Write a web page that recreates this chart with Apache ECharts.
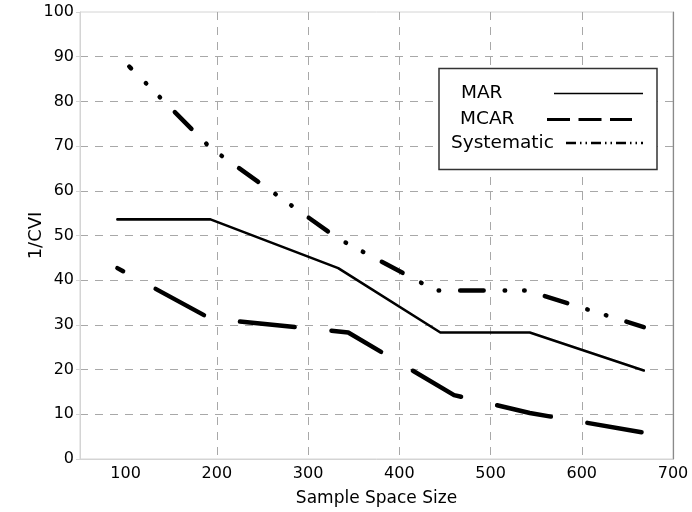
<!DOCTYPE html>
<html>
<head>
<meta charset="utf-8">
<script src="https://cdn.jsdelivr.net/npm/echarts@6/dist/echarts.min.js"></script>
<style>
  html, body { margin: 0; padding: 0; background: #fff; }
  #chart { width: 692px; height: 512px; }
</style>
</head>
<body>
<div id="chart"></div>
<script>
// Sample space size vs 1/CVI for three missing-data mechanisms
const seriesNames = ['MAR', 'MCAR', 'Systematic'];
const marPoints = [[91, 53.6], [193, 53.6], [333, 42.7], [445, 28.3], [543, 28.3], [668, 19.8]];
const mcarPoints = [[91, 42.7], [193, 31.4], [344, 28.3], [460, 14.3], [543, 10.3], [668, 5.9]];
const systematicPoints = [[104, 87.8], [193, 69.6], [333, 49.3], [440, 37.7], [540, 37.7], [668, 29.5]];
const xTickValues = [100, 200, 300, 400, 500, 600, 700];
const xRange = [50, 700];
const yRange = [0, 100];
const yStep = 10;
const xTitle = 'Sample Space Size';
const yTitle = '1/CVI';

const FONT = '"DejaVu Sans", Verdana, sans-serif';
const gridColor = '#a8a8a8';
const frameColor = '#d4d4d4';

const chart = echarts.init(document.getElementById('chart'), null, { renderer: 'canvas' });

function lineSeries(name, data, style) {
  return {
    name: name,
    type: 'line',
    data: data,
    showSymbol: false,
    symbol: 'none',
    smooth: false,
    silent: true,
    animation: false,
    lineStyle: Object.assign({ color: '#000', cap: 'round', join: 'round' }, style)
  };
}

// Legend box drawn as graphics: label on the left, line sample on the right
const legendRows = [
  { y: 93.5, textX: 461, x1: 554, x2: 643, width: 1.5, dash: null },
  { y: 119.5, textX: 460, x1: 547, x2: 632, width: 3, dash: [23, 8.5] },
  { y: 143, textX: 451, x1: 566, x2: 643, width: 2.5, dash: [10, 4, 1.5, 4, 1.5, 4] }
];
const legendGraphics = [{
  type: 'rect',
  shape: { x: 439, y: 68.5, width: 218, height: 101 },
  style: { fill: '#fff', stroke: '#333', lineWidth: 1.5 },
  z: 10
}];
legendRows.forEach((row, i) => {
  legendGraphics.push({
    type: 'text',
    style: { text: seriesNames[i], x: row.textX, y: row.y, font: '18.5px ' + FONT, fill: '#000', verticalAlign: 'middle' },
    z: 11
  });
  legendGraphics.push({
    type: 'line',
    shape: { x1: row.x1, y1: row.y, x2: row.x2, y2: row.y },
    style: { stroke: '#000', lineWidth: row.width, lineDash: row.dash, lineCap: 'butt' },
    z: 11
  });
});

chart.setOption({
  animation: false,
  backgroundColor: '#fff',
  grid: { left: 80, right: 19, top: 12, bottom: 50, show: true, borderColor: frameColor, borderWidth: 1, backgroundColor: '#fff' },
  xAxis: {
    type: 'value',
    min: xRange[0],
    max: xRange[1],
    name: xTitle,
    nameLocation: 'middle',
    nameGap: 31,
    nameMoveOverlap: false,
    nameTextStyle: { fontFamily: FONT, fontSize: 17, color: '#000' },
    axisLine: { show: true, lineStyle: { color: frameColor, width: 1 } },
    axisTick: { show: false, customValues: xTickValues },
    axisLabel: { customValues: xTickValues, fontFamily: FONT, fontSize: 16, color: '#000', margin: 7 },
    splitLine: { show: true, showMinLine: false, showMaxLine: false, lineStyle: { color: gridColor, type: [8, 7], width: 1 } }
  },
  yAxis: [{
    type: 'value',
    min: yRange[0],
    max: yRange[1],
    interval: yStep,
    name: yTitle,
    nameLocation: 'middle',
    nameGap: 35,
    nameMoveOverlap: false,
    nameTextStyle: { fontFamily: FONT, fontSize: 18, color: '#000' },
    axisLine: { show: true, lineStyle: { color: frameColor, width: 1 } },
    axisTick: { show: true, inside: false, length: 4, lineStyle: { color: frameColor } },
    axisLabel: { fontFamily: FONT, fontSize: 16, color: '#000', margin: 6 },
    splitLine: { show: true, showMinLine: false, showMaxLine: false, lineStyle: { color: gridColor, type: [8, 7], width: 1 } }
  }, {
    type: 'value',
    position: 'right',
    min: yRange[0],
    max: yRange[1],
    interval: yStep,
    axisLine: { show: true, onZero: false, lineStyle: { color: '#8a8a8a', width: 1.2 } },
    axisTick: { show: false },
    axisLabel: { show: false },
    splitLine: { show: false }
  }],
  series: [
    lineSeries(seriesNames[0], marPoints, { width: 2.6, type: 'solid' }),
    lineSeries(seriesNames[1], mcarPoints, { width: 4.5, type: [55, 37], dashOffset: 48.5 }),
    lineSeries(seriesNames[2], systematicPoints, { width: 4.5, type: [23.5, 21, 0.5, 19, 0.5, 21], dashOffset: 21 })
  ],
  graphic: legendGraphics
});
</script>
</body>
</html>
